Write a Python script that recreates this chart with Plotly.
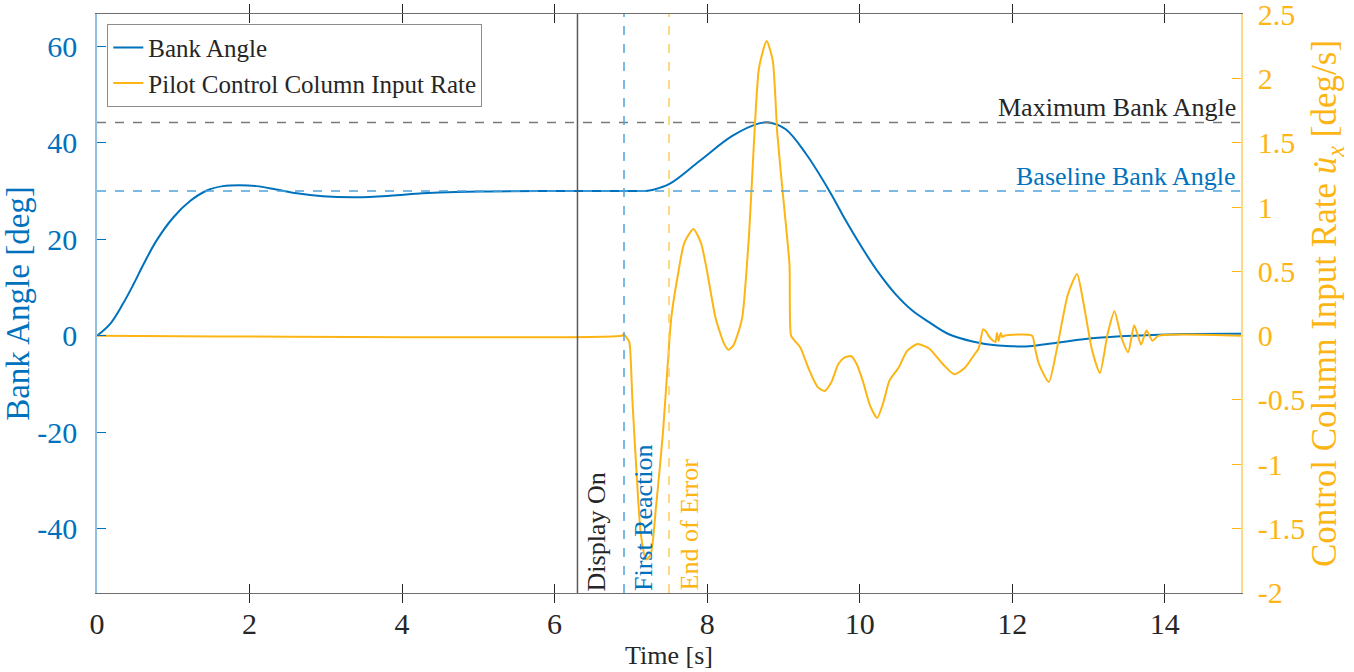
import plotly.graph_objects as go

# ---------------- data ----------------
t_bank = [0, 0.17, 0.34, 0.48, 0.61, 0.78, 1.0, 1.22, 1.44, 1.65, 1.87, 2.09, 2.35, 2.62,
          2.96, 3.40, 3.84, 4.27, 4.71, 5.15, 6.0, 7.0, 7.2, 7.28, 7.5, 7.9, 8.33, 8.68,
          8.81, 9.03, 9.30, 9.61, 9.82, 10.04, 10.25, 10.47, 10.69, 10.91, 11.17, 11.48,
          11.78, 12.0, 12.22, 12.61, 13.08, 13.6, 14.25, 15]
bank_angle = [0, 2.4, 6.6, 10.7, 14.8, 19.7, 24.5, 27.9, 30.1, 31.0, 31.2, 31.0, 30.3, 29.5,
              28.9, 28.7, 29.0, 29.5, 29.8, 29.9, 30.0, 30.0, 30.0, 30.2, 31.4, 36.2, 41.4, 44.0,
              44.2, 42.8, 37.6, 29.8, 23.8, 18.0, 13.0, 8.6, 5.2, 2.8, 0.3, -1.2,
              -2.0, -2.2, -2.2, -1.4, -0.5, 0.0, 0.34, 0.4]

t_rate = [0, 6.88, 6.91, 6.95, 6.98, 7.02, 7.07, 7.13, 7.20, 7.26, 7.33, 7.42, 7.48, 7.53,
          7.61, 7.70, 7.82, 7.92, 7.99, 8.11, 8.22, 8.28, 8.34, 8.40, 8.46, 8.55, 8.62, 8.68,
          8.78, 8.86, 8.92, 9.01, 9.08, 9.10, 9.15, 9.22, 9.34, 9.45, 9.54, 9.63, 9.72, 9.80,
          9.89, 9.96, 10.04, 10.14, 10.23, 10.31, 10.39, 10.51, 10.62, 10.76, 10.91, 11.09,
          11.24, 11.38, 11.50, 11.56, 11.62, 11.66, 11.70, 11.75, 11.78, 11.80, 11.82, 11.85,
          11.87, 11.90, 12.26, 12.30, 12.35, 12.48, 12.58, 12.73, 12.85, 12.93, 13.05, 13.15,
          13.25, 13.34, 13.43, 13.52, 13.60, 13.69, 13.76, 13.84, 13.92, 15]
input_rate = [0, 0, 0.01, -0.02, -0.05, -0.5, -1.02, -1.54, -1.74, -1.70, -1.33, -0.76, -0.25, 0.14,
              0.45, 0.72, 0.83, 0.72, 0.53, 0.14, -0.06, -0.11, -0.08, 0.01, 0.14, 0.79, 1.57, 2.08,
              2.29, 2.14, 1.57, 1.0, 0.55, 0.0, -0.04, -0.09, -0.27, -0.40, -0.43, -0.36, -0.22, -0.17,
              -0.16, -0.22, -0.35, -0.55, -0.64, -0.52, -0.35, -0.25, -0.12, -0.065, -0.10, -0.22,
              -0.30, -0.25, -0.15, -0.10, 0.05, 0.03, -0.01, -0.04, -0.05, 0.02, -0.04, 0.02,
              -0.01, 0.0, 0.0, -0.1, -0.22, -0.36, -0.12, 0.32, 0.48, 0.27, -0.12, -0.29,
              0.01, 0.19, -0.01, -0.13, 0.08, -0.07, 0.04, -0.04, 0.0, 0]

x_ticks = [0, 2, 4, 6, 8, 10, 12, 14]
x_tick_labels = ["0", "2", "4", "6", "8", "10", "12", "14"]
left_ticks = [-40, -20, 0, 20, 40, 60]
left_tick_labels = ["-40", "-20", "0", "20", "40", "60"]
right_ticks = [-2, -1.5, -1, -0.5, 0, 0.5, 1, 1.5, 2, 2.5]
right_tick_labels = ["-2", "-1.5", "-1", "-0.5", "0", "0.5", "1", "1.5", "2", "2.5"]

display_on_time = 6.30
first_reaction_time = 6.91
end_of_error_time = 7.50
max_bank_angle = 44.2
baseline_bank_angle = 30.0

# ---------------- style ----------------
FONT = "Liberation Serif"
BLUE = "#0072BD"
LIGHT_BLUE = "#4DA3DB"
YELLOW = "#FDB515"
LIGHT_YELLOW = "#FFCB5C"
DARK = "#262626"

fig = go.Figure()
fig.add_trace(go.Scatter(x=t_bank, y=bank_angle, name="Bank Angle", mode="lines",
                         line=dict(color=BLUE, width=2, shape="spline", smoothing=1.0),
                         yaxis="y"))
fig.add_trace(go.Scatter(x=t_rate, y=input_rate, name="Pilot Control Column Input Rate",
                         mode="lines",
                         line=dict(color=YELLOW, width=2, shape="spline", smoothing=0.6),
                         yaxis="y2"))

shapes = [
    dict(type="line", xref="x", yref="y", x0=0, x1=15, y0=max_bank_angle, y1=max_bank_angle,
         line=dict(color="#7a7a7a", width=1.5, dash="dash")),
    dict(type="line", xref="x", yref="y", x0=0, x1=15, y0=baseline_bank_angle, y1=baseline_bank_angle,
         line=dict(color=LIGHT_BLUE, width=1.5, dash="dash")),
    dict(type="line", xref="x", yref="paper", x0=display_on_time, x1=display_on_time, y0=0, y1=1,
         line=dict(color="#5a5a5a", width=1.5)),
    dict(type="line", xref="x", yref="paper", x0=first_reaction_time, x1=first_reaction_time, y0=0, y1=1,
         line=dict(color=LIGHT_BLUE, width=1.5, dash="dash")),
    dict(type="line", xref="x", yref="paper", x0=end_of_error_time, x1=end_of_error_time, y0=0, y1=1,
         line=dict(color=LIGHT_YELLOW, width=1.5, dash="dash")),
]

ann_font = 26
annotations = [
    dict(x=15, y=max_bank_angle, xref="x", yref="y", text="Maximum Bank Angle",
         xanchor="right", yanchor="bottom", showarrow=False, xshift=-3, yshift=-2,
         font=dict(family=FONT, size=ann_font, color=DARK)),
    dict(x=15, y=baseline_bank_angle, xref="x", yref="y", text="Baseline Bank Angle",
         xanchor="right", yanchor="bottom", showarrow=False, xshift=-3, yshift=-2,
         font=dict(family=FONT, size=ann_font, color=BLUE)),
    dict(x=display_on_time, y=0, xref="x", yref="paper", text="Display On", textangle=-90,
         xanchor="left", yanchor="bottom", showarrow=False, xshift=3, yshift=0,
         font=dict(family=FONT, size=ann_font, color=DARK)),
    dict(x=first_reaction_time, y=0, xref="x", yref="paper", text="First Reaction", textangle=-90,
         xanchor="left", yanchor="bottom", showarrow=False, xshift=3, yshift=0,
         font=dict(family=FONT, size=ann_font, color=BLUE)),
    dict(x=end_of_error_time, y=0, xref="x", yref="paper", text="End of Error", textangle=-90,
         xanchor="left", yanchor="bottom", showarrow=False, xshift=3, yshift=0,
         font=dict(family=FONT, size=ann_font, color=YELLOW)),
]

fig.update_layout(
    width=1354, height=672,
    margin=dict(l=97, r=113, t=14, b=79),
    paper_bgcolor="white", plot_bgcolor="white",
    font=dict(family=FONT, color=DARK),
    shapes=shapes, annotations=annotations,
    showlegend=True, hovermode=False,
    legend=dict(x=0.009, y=0.983, xanchor="left", yanchor="top",
                bgcolor="white", bordercolor="#8c8c8c", borderwidth=1,
                font=dict(family=FONT, size=25, color=DARK),
                itemwidth=30, tracegroupgap=0),
    xaxis=dict(range=[0, 15], tickvals=x_ticks, ticktext=x_tick_labels, automargin=False,
               ticks="inside", ticklen=9, tickcolor=DARK, showline=True, linecolor="#6e6e6e",
               linewidth=1, mirror="allticks", showgrid=False, zeroline=False,
               ticklabelstandoff=4,
               tickfont=dict(family=FONT, size=30, color=DARK),
               title=dict(text="Time [s]", font=dict(family=FONT, size=26, color=DARK), standoff=6)),
    yaxis=dict(range=[-53.34, 66.68], tickvals=left_ticks, ticktext=left_tick_labels,
               automargin=False,
               ticks="inside", ticklen=9, tickcolor=BLUE, showline=True, linecolor="#8fc0e4",
               linewidth=1.5, showgrid=False, zeroline=False, ticklabelstandoff=12,
               tickfont=dict(family=FONT, size=30, color=BLUE),
               title=dict(text="Bank Angle [deg]", font=dict(family=FONT, size=33, color=BLUE), standoff=0)),
    yaxis2=dict(range=[-2.0005, 2.5005], tickvals=right_ticks, ticktext=right_tick_labels,
                overlaying="y", side="right", anchor="x", automargin=False,
                ticks="inside", ticklen=9, tickcolor=YELLOW, showline=True, linecolor="#FFD98A",
                linewidth=1.5, showgrid=False, zeroline=False, ticklabelstandoff=9,
                ticklabeloverflow="allow",
                tickfont=dict(family=FONT, size=30, color=YELLOW),
                title=dict(text="Control Column Input Rate <i>u\u0307</i><sub><i>x</i></sub> [deg/s]",
                           font=dict(family=FONT, size=35, color=YELLOW), standoff=4)),
)

fig.write_html("out.html", config={"displayModeBar": False},
               post_script="document.body.style.margin='0';")
